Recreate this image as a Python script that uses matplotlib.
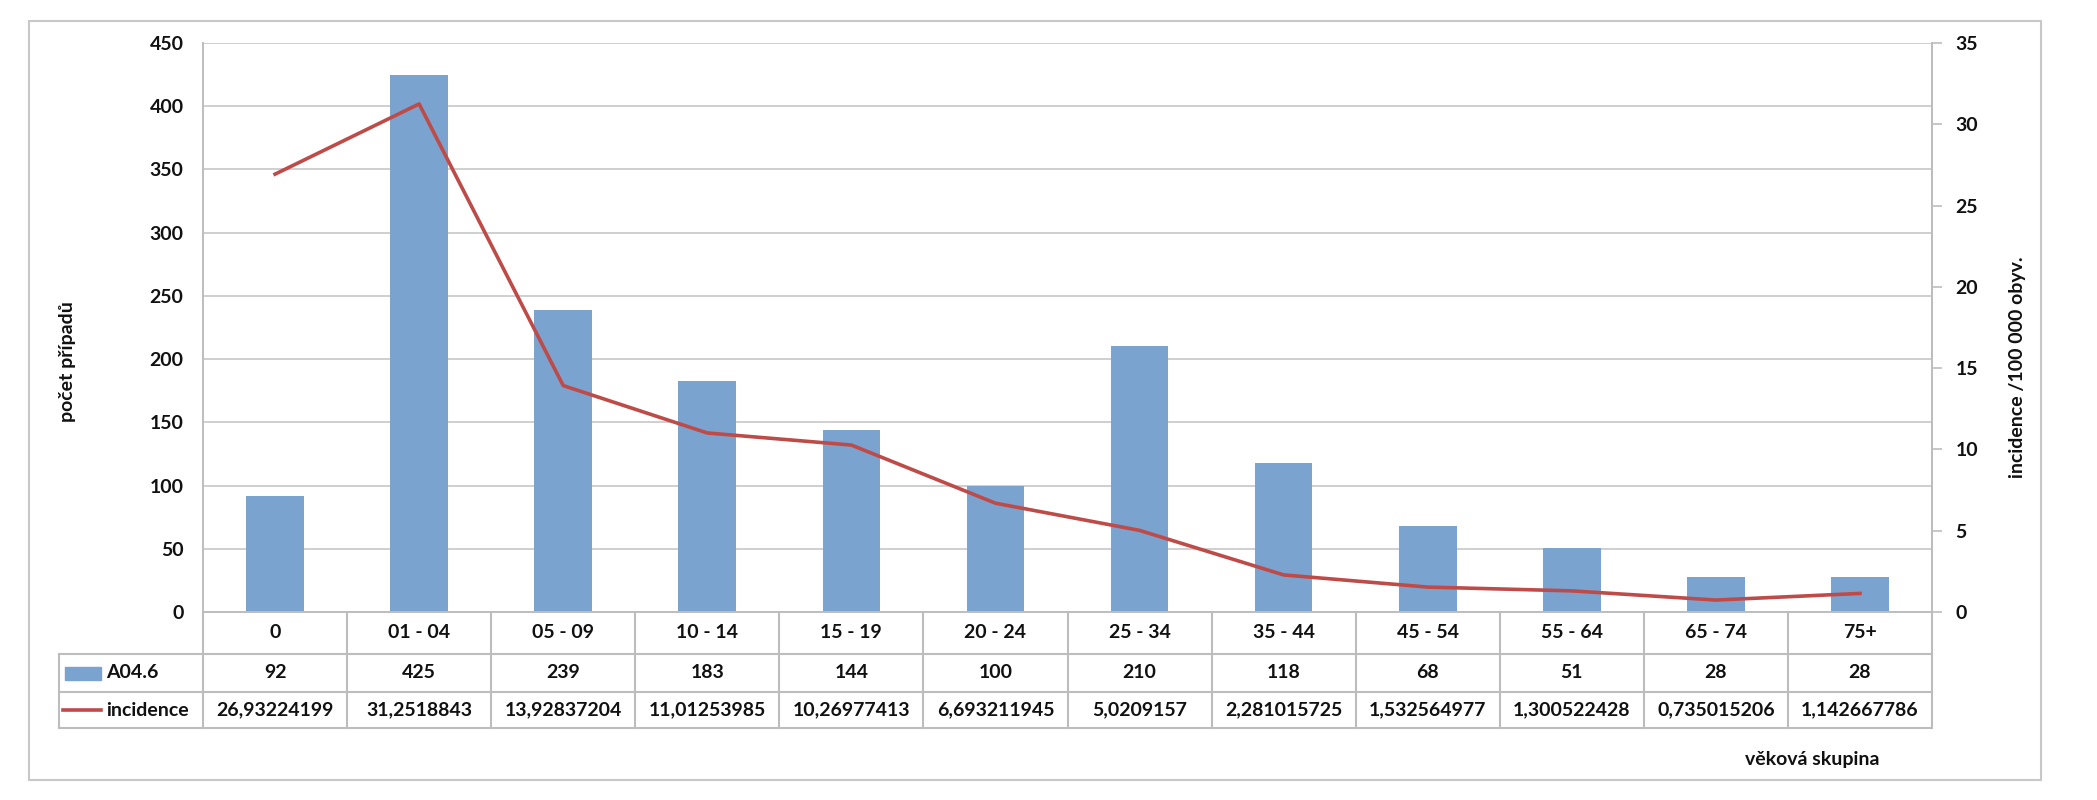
import matplotlib
matplotlib.use("Agg")
import matplotlib.pyplot as plt
from matplotlib.patches import Rectangle
from matplotlib.lines import Line2D
import matplotlib.transforms as mtransforms

plt.rcParams['font.family'] = ['Lato', 'DejaVu Sans']
plt.rcParams['font.weight'] = 'bold'

categories = ["0", "01 - 04", "05 - 09", "10 - 14", "15 - 19", "20 - 24",
              "25 - 34", "35 - 44", "45 - 54", "55 - 64", "65 - 74", "75+"]
cases = [92, 425, 239, 183, 144, 100, 210, 118, 68, 51, 28, 28]
incidence = [26.93224199, 31.2518843, 13.92837204, 11.01253985, 10.26977413,
             6.693211945, 5.0209157, 2.281015725, 1.532564977, 1.300522428,
             0.735015206, 1.142667786]
series_names = ["A04.6", "incidence"]
left_label = "počet případů"
right_label = "incidence /100 000 obyv."
x_label = "věková skupina"

W, H = 2097, 800
BAR_C = '#7BA3D0'
LINE_C = '#BE4B48'
GRID_C = '#CFCFCF'
TAB_C = '#BDBDBD'
FS = 14

def fx(x):
    return x / W

def fy(y):
    return 1 - y / H

fig = plt.figure(figsize=(W / 100, H / 100), dpi=100)
fig.patch.set_facecolor('white')

# outer border
fig.add_artist(Rectangle((fx(29), fy(780)), fx(2041) - fx(29), fy(21) - fy(780),
                         transform=fig.transFigure, fill=False,
                         edgecolor='#C8C8C8', lw=1.5))

ax = fig.add_axes([fx(203), fy(612), fx(1932) - fx(203), fy(43) - fy(612)])
x = list(range(len(categories)))
ax.bar(x, cases, width=0.4, color=BAR_C, zorder=2)
ax.set_xlim(-0.5, len(categories) - 0.5)
ax.set_ylim(0, 450)
ax.set_yticks(range(0, 451, 50))
ax.yaxis.grid(True, color=GRID_C, lw=1.4)
ax.set_axisbelow(True)
ax.set_xticks([])
for s in ['top']:
    ax.spines[s].set_visible(False)
for s in ['left', 'right', 'bottom']:
    ax.spines[s].set_color('#BDBDBD')
    ax.spines[s].set_linewidth(1.4)
ax.tick_params(axis='y', length=0, pad=14, labelsize=FS, labelcolor='#111111')

ax2 = ax.twinx()
ax2.plot(x, incidence, color=LINE_C, lw=2.6, zorder=3)
ax2.set_ylim(0, 35)
ax2.set_yticks(range(0, 36, 5))
for s in ['top', 'left', 'bottom']:
    ax2.spines[s].set_visible(False)
ax2.spines['right'].set_color('#BDBDBD')
ax2.spines['right'].set_linewidth(1.4)
ax2.tick_params(axis='y', length=7, width=1.2, color='#BDBDBD', pad=10,
                labelsize=FS, labelcolor='#111111')

# axis titles
fig.text(fx(68), fy(362), left_label, rotation=90, ha='center', va='center',
         fontsize=FS, fontweight='bold', color='#111111')
fig.text(fx(2017), fy(367), right_label, rotation=90, ha='center', va='center',
         fontsize=FS, fontweight='bold', color='#111111')
fig.text(fx(1812), fy(759), x_label, ha='center', va='center',
         fontsize=FS, fontweight='bold', color='#111111')

# data table
trans = mtransforms.blended_transform_factory(ax.transData, fig.transFigure)
y_top, y_r1, y_r2, y_bot = 612, 654, 692, 728
for i in range(len(categories) + 1):
    fig.add_artist(Line2D([i - 0.5, i - 0.5], [fy(y_top), fy(y_bot)],
                          transform=trans, color=TAB_C, lw=1.5))
for yy in (y_r1, y_r2, y_bot):
    fig.add_artist(Line2D([fx(59), fx(1932)], [fy(yy), fy(yy)],
                          transform=fig.transFigure, color=TAB_C, lw=1.5))
fig.add_artist(Line2D([fx(59), fx(59)], [fy(y_r1), fy(y_bot)],
                      transform=fig.transFigure, color=TAB_C, lw=1.5))

row_h = (fy(y_top) + fy(y_r1)) / 2
row_1 = (fy(y_r1) + fy(y_r2)) / 2
row_2 = (fy(y_r2) + fy(y_bot)) / 2
for i, c in enumerate(categories):
    fig.text(i, row_h, c, transform=trans, ha='center', va='center',
             fontsize=FS, fontweight='bold', color='#111111')
    fig.text(i, row_1, str(cases[i]), transform=trans, ha='center', va='center',
             fontsize=FS, fontweight='bold', color='#111111')
    fig.text(i, row_2, str(incidence[i]).replace('.', ','), transform=trans,
             ha='center', va='center', fontsize=FS, fontweight='bold',
             color='#111111')

# legend keys in the table
fig.add_artist(Rectangle((fx(65), row_1 - 6.5 / H), fx(101) - fx(65), 13 / H,
                         transform=fig.transFigure, color=BAR_C))
fig.add_artist(Line2D([fx(63), fx(101)], [row_2, row_2], transform=fig.transFigure,
                      color=LINE_C, lw=2.6))
fig.text(fx(106), row_1, series_names[0], ha='left', va='center',
         fontsize=FS, fontweight='bold', color='#111111')
fig.text(fx(106), row_2, series_names[1], ha='left', va='center',
         fontsize=FS, fontweight='bold', color='#111111')

fig.savefig('out.png', dpi=100, facecolor='white')
